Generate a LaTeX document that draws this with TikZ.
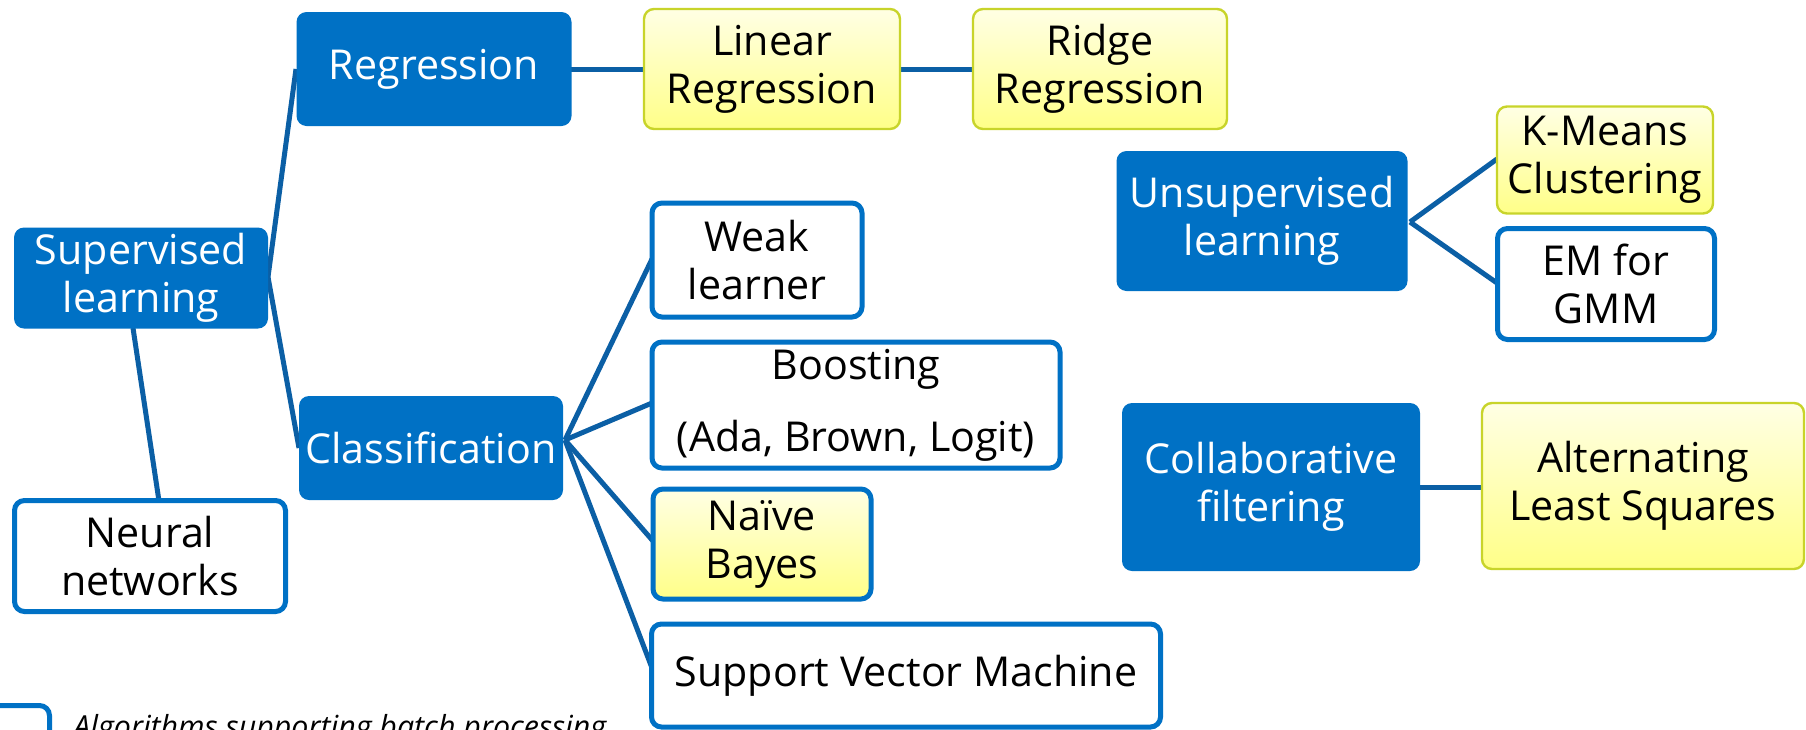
\documentclass[tikz,border=0pt]{standalone}
\usepackage{fontspec}
\setmainfont{Open Sans}
\usetikzlibrary{calc}
\definecolor{iblue}{HTML}{0071C5}
\definecolor{linkblue}{HTML}{0B5FA5}
\definecolor{ytop}{HTML}{FFFFE4}
\definecolor{ybot}{HTML}{FFFF88}
\definecolor{yedge}{HTML}{C8D42A}
\tikzset{
  box/.style={rounded corners=5pt, align=center, inner sep=0pt,
    font=\fontsize{20.6}{24}\selectfont},
  bluebox/.style={box, fill=iblue, text=white},
  whitebox/.style={box, draw=iblue, line width=2.5pt, fill=white, text=black},
  yellowbox/.style={box, draw=yedge, line width=1.2pt, top color=ytop, bottom color=ybot, text=black},
  bluebatch/.style={box, draw=iblue, line width=2.5pt, top color=ytop, bottom color=ybot, text=black},
  link/.style={draw=linkblue, line width=2.5pt},
  sz/.style 2 args={minimum width=#1*0.5pt, minimum height=#2*0.5pt}
}
\begin{document}
\begin{tikzpicture}[x=0.5pt, y=-0.5pt]
\useasboundingbox (0,0) rectangle (1806,729);
\fill[white] (0,0) rectangle (1806,729);

% connectors first, so the boxes sit on top of their ends
\coordinate (supE) at (268,277);
\coordinate (fan) at (565,440);
\coordinate (unsE) at (1410,222);
\draw[link] (supE) -- (296,69) coordinate (regW);
\draw[link] (supE) -- (299,448) coordinate (clsW);
\draw[link] (133,328) coordinate (supS) -- (159,501) coordinate (nnN);
\draw[link] (571,69) coordinate (regE) -- (646,69) coordinate (linW);
\draw[link] (900,69) coordinate (linE) -- (973,69) coordinate (ridW);
\draw[link] (fan) -- (652,259) coordinate (weakW);
\draw[link] (fan) -- (652,403) coordinate (boostW);
\draw[link] (fan) -- (653,541) coordinate (naiveW);
\draw[link] (fan) -- (652,668) coordinate (svmW);
\draw[link] (unsE) -- (1497,159) coordinate (kmW);
\draw[link] (unsE) -- (1497,283) coordinate (emW);
\draw[link] (1420,487) coordinate (colE) -- (1482,487) coordinate (alsW);

% supervised learning branch
\node[bluebox, sz={254}{101}] (sup) at (141,278) {Supervised\\learning};
\node[bluebox, sz={275}{114}] (reg) at (434,69) {Regression};
\node[yellowbox, sz={256}{120}] (lin) at (772,69) {Linear\\Regression};
\node[yellowbox, sz={254}{120}] (ridge) at (1100,69) {Ridge\\Regression};
\node[bluebox, sz={264}{104}] (cls) at (431,448) {Classification};
\node[whitebox, sz={210}{114}] (weak) at (757,260) {Weak\\learner};
\node[whitebox, sz={408}{126}] (boost) at (856,405) {Boosting\\[12pt](Ada, Brown, Logit)};
\node[bluebatch, sz={218}{110}] (naive) at (762,544) {Naïve\\Bayes};
\node[whitebox, sz={509}{103}] (svm) at (906,675.5) {Support Vector Machine};
\node[whitebox, sz={271}{111}] (nn) at (150,556) {Neural\\networks};

% unsupervised learning
\node[bluebox, sz={291}{140}] (unsup) at (1262,221) {Unsupervised\\learning};
\node[yellowbox, sz={216}{107}] (kmeans) at (1605,160) {K-Means\\Clustering};
\node[whitebox, sz={217}{111}] (em) at (1606,284) {EM for\\GMM};

% collaborative filtering
\node[bluebox, sz={298}{168}] (collab) at (1271,487) {Collaborative\\filtering};
\node[yellowbox, sz={322}{166}] (als) at (1643,486) {Alternating\\Least Squares};

% legend
\node[whitebox, sz={80}{50}, anchor=north east] (legbox) at (52,703) {};
\node[anchor=base west, inner sep=0pt, font=\fontsize{15.2}{18}\selectfont\itshape] (legtext) at (73,737)
  {Algorithms supporting batch processing};
\end{tikzpicture}
\end{document}
